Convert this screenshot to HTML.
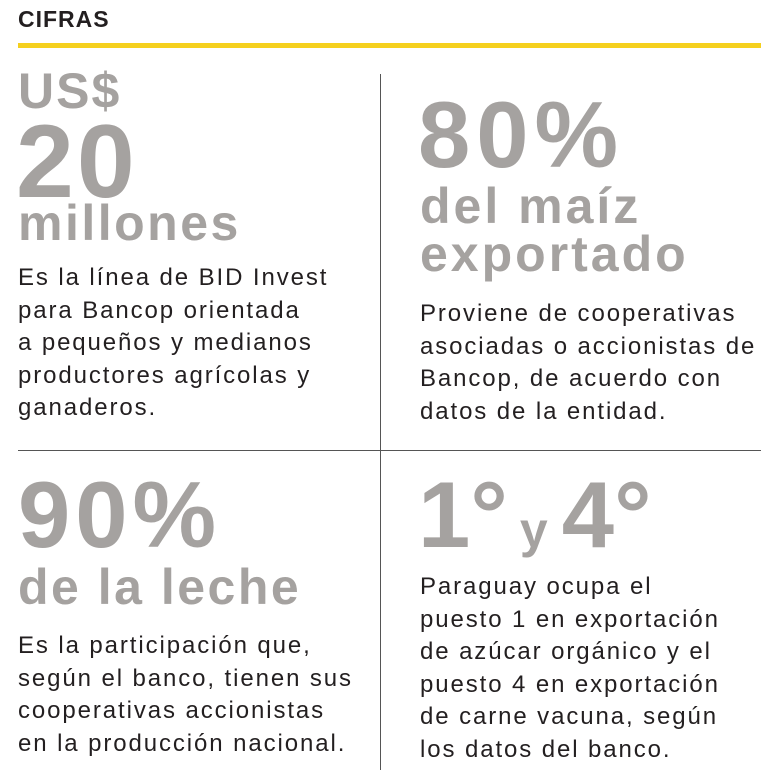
<!DOCTYPE html>
<html><head><meta charset="utf-8">
<style>
*{margin:0;padding:0;box-sizing:border-box}
body{width:770px;height:770px;background:#fff;position:relative;overflow:hidden;font-family:"Liberation Sans",sans-serif}
.a{position:absolute;white-space:nowrap}
.big{color:#a5a2a0;font-weight:bold;letter-spacing:2px}
.body{color:#231f20;font-size:24px;line-height:32.5px;letter-spacing:1.9px}
</style></head><body>
<div class="a" style="left:18px;top:6px;font-size:23px;font-weight:bold;color:#231f20;letter-spacing:1px">CIFRAS</div>
<div class="a" style="left:18px;top:43px;width:743px;height:5px;background:#f5d01e"></div>
<div class="a" style="left:380px;top:74px;width:1px;height:696px;background:#555"></div>
<div class="a" style="left:18px;top:450px;width:743px;height:1px;background:#555"></div>

<div class="a big" style="left:18px;top:66px;font-size:50px;line-height:50px">US$</div>
<div class="a big" style="left:16px;top:112px;font-size:104px;line-height:100px;letter-spacing:3px">20</div>
<div class="a big" style="left:18px;top:198px;font-size:50px;line-height:50px;letter-spacing:2.5px">millones</div>
<div class="a body" style="left:18px;top:262px">Es la línea de BID Invest<br>para Bancop orientada<br>a pequeños y medianos<br>productores agrícolas y<br>ganaderos.</div>

<div class="a big" style="left:418px;top:88px;font-size:94px;line-height:94px;letter-spacing:6px">80%</div>
<div class="a big" style="left:420px;top:182px;font-size:50px;line-height:48px;letter-spacing:3px">del maíz<br>exportado</div>
<div class="a body" style="left:420px;top:298px">Proviene de cooperativas<br>asociadas o accionistas de<br>Bancop, de acuerdo con<br>datos de la entidad.</div>

<div class="a big" style="left:18px;top:468px;font-size:94px;line-height:94px;letter-spacing:5px">90%</div>
<div class="a big" style="left:18px;top:562px;font-size:50px;line-height:50px;letter-spacing:2.5px">de la leche</div>
<div class="a body" style="left:18px;top:630px">Es la participación que,<br>según el banco, tienen sus<br>cooperativas accionistas<br>en la producción nacional.</div>

<div class="a big" style="left:418px;top:468px;font-size:94px;line-height:94px;letter-spacing:0px">1°<span style="font-size:50px;margin-left:12px">y</span><span style="margin-left:14px">4°</span></div>
<div class="a body" style="left:420px;top:571px">Paraguay ocupa el<br>puesto 1 en exportación<br>de azúcar orgánico y el<br>puesto 4 en exportación<br>de carne vacuna, según<br>los datos del banco.</div>
</body></html>
